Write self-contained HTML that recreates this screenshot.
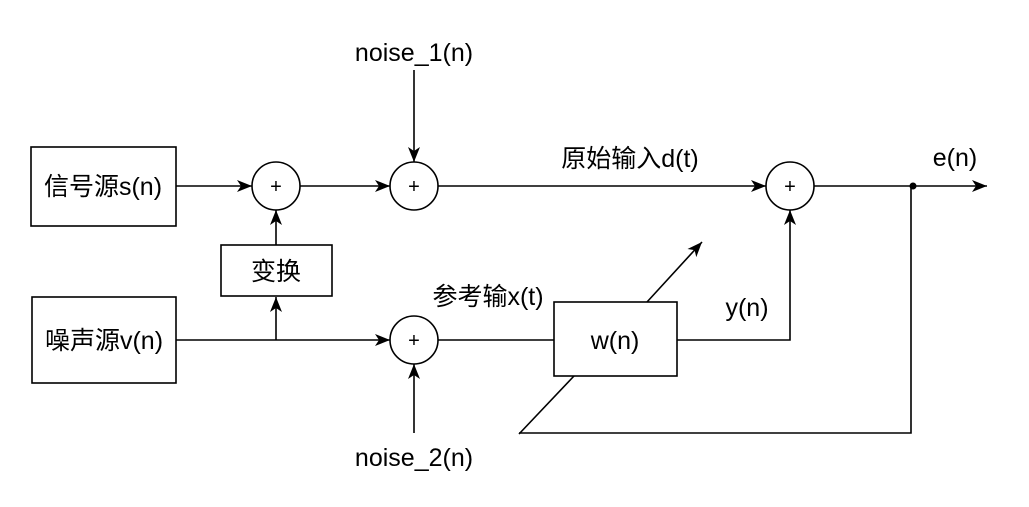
<!DOCTYPE html>
<html><head><meta charset="utf-8"><style>
html,body{margin:0;padding:0;background:#fff;}
svg{display:block;}
text{font-family:"Liberation Sans","Noto Sans CJK SC",sans-serif;fill:#000;}
</style></head><body>
<svg width="1029" height="507" viewBox="0 0 1029 507" xmlns="http://www.w3.org/2000/svg">
<defs>
<marker id="a" markerWidth="16" markerHeight="16" refX="15" refY="6" orient="auto" markerUnits="userSpaceOnUse">
<path d="M0,0 L15,6 L0,12 L4,6 Z" fill="#000"/>
</marker>
</defs>
<g stroke="#000" stroke-width="1.6" fill="none">
<rect x="31" y="147" width="145" height="79" fill="#fff"/>
<rect x="32" y="297" width="144" height="86" fill="#fff"/>
<rect x="221" y="245" width="111" height="51" fill="#fff"/>
<rect x="554" y="302" width="123" height="74" fill="#fff"/>
<circle cx="276" cy="186" r="24"/>
<circle cx="414" cy="186" r="24"/>
<circle cx="414" cy="340" r="24"/>
<circle cx="790" cy="186" r="24"/>
<line x1="176" y1="186" x2="252" y2="186" marker-end="url(#a)"/>
<line x1="300" y1="186" x2="390" y2="186" marker-end="url(#a)"/>
<line x1="414" y1="70" x2="414" y2="162" marker-end="url(#a)"/>
<line x1="438" y1="186" x2="766" y2="186" marker-end="url(#a)"/>
<line x1="814" y1="186" x2="987" y2="186" marker-end="url(#a)"/>
<line x1="276" y1="245" x2="276" y2="210" marker-end="url(#a)"/>
<line x1="176" y1="340" x2="390" y2="340" marker-end="url(#a)"/>
<line x1="276" y1="340" x2="276" y2="297" marker-end="url(#a)"/>
<line x1="414" y1="433" x2="414" y2="364" marker-end="url(#a)"/>
<line x1="438" y1="340" x2="554" y2="340"/>
<polyline points="677,340 790,340 790,210" marker-end="url(#a)"/>
<polyline points="911,186 911,433 519,433"/>
<line x1="519" y1="434" x2="574" y2="376"/>
<line x1="647" y1="302" x2="702" y2="242" marker-end="url(#a)"/>
</g>
<circle cx="913" cy="186" r="3.5" fill="#000"/>
<g font-size="25" text-anchor="middle">
<text x="103" y="195">信号源s(n)</text>
<text x="104" y="349">噪声源v(n)</text>
<text x="276" y="280">变换</text>
<text x="615" y="349">w(n)</text>
<text x="414" y="61">noise_1(n)</text>
<text x="414" y="466">noise_2(n)</text>
<text x="630" y="167">原始输入d(t)</text>
<text x="488" y="305">参考输x(t)</text>
<text x="747" y="316">y(n)</text>
<text x="955" y="166">e(n)</text>
</g>
<g font-size="20" text-anchor="middle">
<text x="276" y="193">+</text>
<text x="414" y="193">+</text>
<text x="414" y="347">+</text>
<text x="790" y="193">+</text>
</g>
</svg>
</body></html>
